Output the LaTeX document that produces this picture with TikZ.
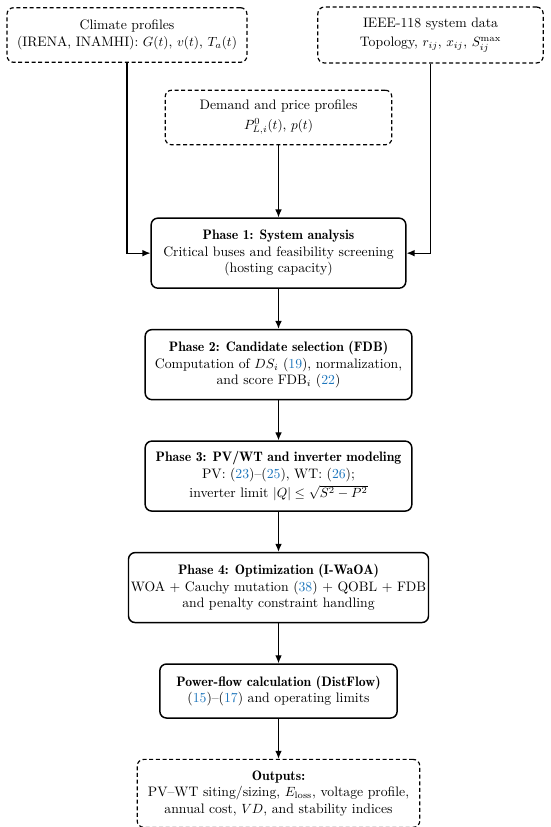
\documentclass[tikz,border=0pt]{standalone}
\usetikzlibrary{arrows.meta, positioning}

\definecolor{linkblue}{RGB}{28,117,188}
\newcommand{\eqnref}[1]{(\textcolor{linkblue}{#1})}
\newcommand{\hdr}[1]{{\fontseries{b}\selectfont #1}}

\begin{document}
\begin{tikzpicture}[
    x=0.75pt, y=-0.75pt,
    node distance = 30pt,
    every node/.style = {font=\fontsize{10.3}{12.4}\selectfont},
    inbox/.style = {
        rectangle,
        rounded corners=5pt,
        draw=black,
        line width=0.9pt,
        dash pattern=on 3pt off 2pt,
        minimum height=41pt,
        align=center
    },
    phasebox/.style = {
        rectangle,
        rounded corners=5pt,
        draw=black,
        line width=1.1pt,
        minimum width=200pt,
        minimum height=52.5pt,
        align=center
    },
    arr/.style = {
        -{Latex[length=6pt,width=5pt]},
        line width=0.9pt
    }
]

%% Page frame
\useasboundingbox (0,0) rectangle (550,827);

%% Input data
\node[inbox, minimum width=180pt] (climate) at (127,35)
    {Climate profiles\\(IRENA, INAMHI): $G(t)$, $v(t)$, $T_a(t)$};
\node[inbox, minimum width=169pt, minimum height=42pt] (ieee) at (430.5,35)
    {IEEE-118 system data\\[2pt]Topology, $r_{ij}$, $x_{ij}$, $S_{ij}^{\max}$};
\node[inbox, minimum width=170pt] (demand) at (278.5,117.5)
    {Demand and price profiles\\[2pt]$P_{L,i}^{0}(t)$, $p(t)$};

%% Phases placed in a column below the demand profiles
\node[phasebox, below=54pt of demand, minimum width=191pt] (phase1)
    {\hdr{Phase 1: System analysis}\\
     Critical buses and feasibility screening\\
     (hosting capacity)};
\node[phasebox, below=of phase1] (phase2)
    {\hdr{Phase 2: Candidate selection (FDB)}\\
     Computation of $DS_i$ \eqnref{19}, normalization,\\
     and score FDB$_i$ \eqnref{22}};
\node[phasebox, below=of phase2] (phase3)
    {\hdr{Phase 3: PV/WT and inverter modeling}\\
     PV: \eqnref{23}--\eqnref{25}, WT: \eqnref{26};\\[2pt]
     inverter limit $|Q| \le \sqrt{S^2 - P^2}$};
\node[phasebox, below=of phase3, minimum width=225pt, inner xsep=1.5pt] (phase4)
    {\hdr{Phase 4: Optimization (I-WaOA)}\\
     WOA + Cauchy mutation \eqnref{38} + QOBL + FDB\\
     and penalty constraint handling};
\node[phasebox, below=of phase4, minimum width=178pt, minimum height=40.5pt] (pflow)
    {\hdr{Power-flow calculation (DistFlow)}\\
     \eqnref{15}--\eqnref{17} and operating limits};
\node[inbox, below=of pflow, minimum width=212pt, minimum height=51pt] (outputs)
    {\hdr{Outputs:}\\
     PV--WT siting/sizing, $E_{\mathrm{loss}}$, voltage profile,\\
     annual cost, $VD$, and stability indices};

%% Arrows
\draw[arr] (climate) |- (phase1);
\draw[arr] (ieee)    |- (phase1);
\draw[arr] (demand)  -- (phase1);
\draw[arr] (phase1)  -- (phase2);
\draw[arr] (phase2)  -- (phase3);
\draw[arr] (phase3)  -- (phase4);
\draw[arr] (phase4)  -- (pflow);
\draw[arr] (pflow)   -- (outputs);

\end{tikzpicture}
\end{document}
